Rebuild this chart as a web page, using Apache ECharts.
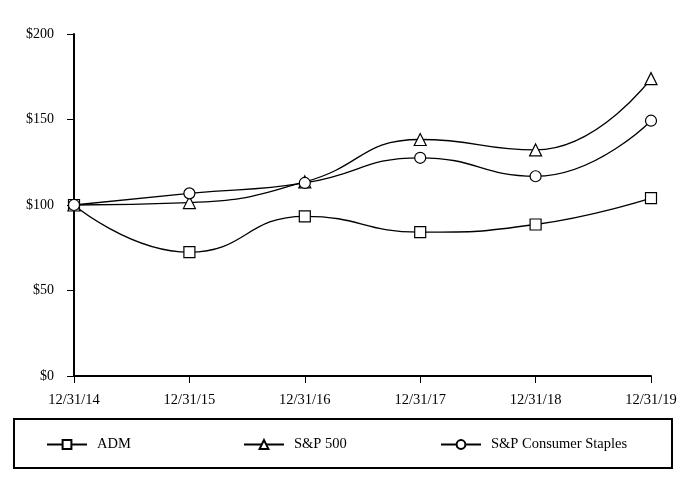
<!DOCTYPE html>
<html>
<head>
<meta charset="utf-8">
<script src="https://cdn.jsdelivr.net/npm/echarts@6/dist/echarts.min.js"></script>
<style>html,body{margin:0;padding:0;background:#fff}#c{width:684px;height:480px}</style>
</head>
<body>
<div id="c"></div>
<script>
var categories = ['12/31/14','12/31/15','12/31/16','12/31/17','12/31/18','12/31/19'];
var adm = [100, 72.4, 93.4, 84.1, 88.6, 104.0];
var sp500 = [100, 101.4, 113.5, 138.3, 132.2, 173.9];
var staples = [100, 106.8, 112.9, 127.6, 116.8, 149.3];
var seriesNames = ['ADM', 'S&P 500', 'S&P Consumer Staples'];
var yTicks = [0, 50, 100, 150, 200];

var FONT = '"Liberation Serif", "Times New Roman", serif';
var chart = echarts.init(document.getElementById('c'), null, {renderer: 'canvas'});

function mkSeries(name, data, symbol) {
  return {
    name: name, type: 'line', data: data, smooth: 0.5,
    symbol: symbol, symbolSize: symbol === 'triangle' ? 12 : 11,
    showAllSymbol: true,
    lineStyle: {color: '#000', width: 1.3},
    itemStyle: {color: '#fff', borderColor: '#000', borderWidth: 1.2},
    emphasis: {disabled: true},
    animation: false
  };
}
function mkLegend(name, left) {
  return {
    data: [name], left: left, top: 432, itemWidth: 40, itemHeight: 11,
    textStyle: {fontFamily: FONT, fontSize: 14.5, color: '#000', padding: [0, 0, 0, 5]},
    selectedMode: false
  };
}

chart.setOption({
  animation: false,
  backgroundColor: '#fff',
  grid: {left: 74, right: 33, top: 34, bottom: 104, containLabel: false},
  xAxis: {
    type: 'category', data: categories, boundaryGap: false,
    axisLine: {lineStyle: {color: '#000', width: 2}},
    axisTick: {show: true, alignWithLabel: true, length: 7, lineStyle: {color: '#000', width: 1}},
    axisLabel: {fontFamily: FONT, fontSize: 14.5, color: '#000', margin: 17},
    splitLine: {show: false}
  },
  yAxis: {
    type: 'value', min: 0, max: 200, interval: 50,
    axisLine: {show: true, lineStyle: {color: '#000', width: 2}},
    axisTick: {show: true, length: 7, lineStyle: {color: '#000', width: 1}},
    axisLabel: {fontFamily: FONT, fontSize: 14, color: '#000', margin: 20,
      formatter: function (v) { return '$' + v; }},
    splitLine: {show: false}
  },
  legend: [mkLegend(seriesNames[0], 41), mkLegend(seriesNames[1], 238), mkLegend(seriesNames[2], 435)],
  graphic: [{
    type: 'rect', left: 13, top: 418, z: -1,
    shape: {width: 658, height: 49},
    style: {fill: '#fff', stroke: '#000', lineWidth: 2}
  }],
  series: [
    mkSeries(seriesNames[0], adm, 'rect'),
    mkSeries(seriesNames[1], sp500, 'triangle'),
    mkSeries(seriesNames[2], staples, 'circle')
  ]
});
</script>
</body>
</html>
